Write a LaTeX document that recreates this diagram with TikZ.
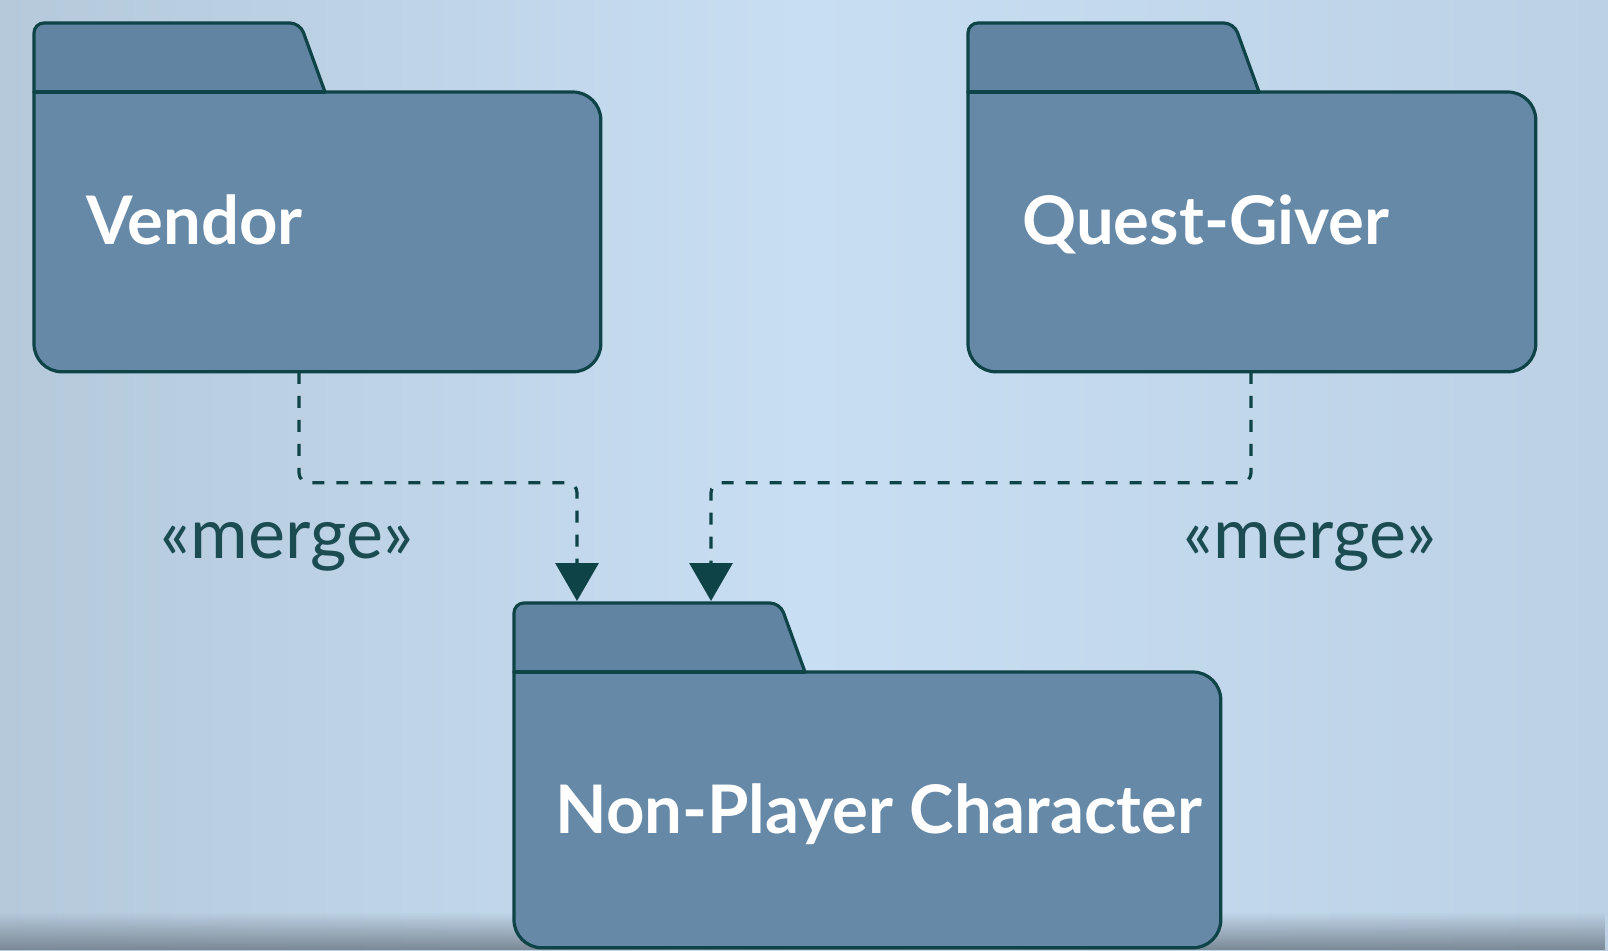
\documentclass[tikz,border=0pt]{standalone}
\usepackage{fontspec}
\setmainfont{Lato}
\usetikzlibrary{arrows.meta, positioning, fadings}

\definecolor{bgblue}{HTML}{C8DEF2}
\definecolor{bgleft}{HTML}{B5C9DB}
\definecolor{bgright}{HTML}{BCD1E4}
\definecolor{bgfoot}{HTML}{7A8895}
\definecolor{pkgfill}{HTML}{6689A8}
\definecolor{tabfill}{HTML}{6084A2}
\definecolor{pkgedge}{HTML}{0E4447}
\definecolor{mergetext}{HTML}{1B4C52}

\tikzset{
  pkgbody/.style={minimum width=#1, minimum height=139.5pt, inner sep=0pt, anchor=north west},
  pkgline/.style={draw=pkgedge, line width=1.6pt, line join=round, line cap=round},
  pkgname/.style={text=white, font=\fontsize{33.5}{36}\selectfont\bfseries, inner sep=0pt, anchor=base west},
  mergeline/.style={draw=pkgedge, line width=1.6pt, dash pattern=on 6pt off 6pt, rounded corners=5pt,
    -{Triangle[width=21.5pt, length=19pt]}},
  mergelabel/.style={text=mergetext, font=\fontsize{35}{38}\selectfont, inner sep=0pt, anchor=base}
}

% folder outline of a package, drawn round its body node
\newcommand{\pkgfolder}[1]{%
  \coordinate (#1-tab) at ([shift={(291,0)}]#1.north west);
  \fill[pkgfill, rounded corners=14pt] (#1.north west) -- (#1.north east) -- (#1.south east) -- (#1.south west) -- (#1.north west);
  \fill[tabfill, rounded corners=7pt] (#1.north west) -- ++(0,-69) -- ++(266,0) -- (#1-tab);
  \draw[pkgline] (#1-tab) [rounded corners=14pt] -- (#1.north east) -- (#1.south east) -- (#1.south west) -- (#1.north west)
    [rounded corners=5pt] -- ++(0,-69) -- ++(266,0) [rounded corners=11pt] -- (#1-tab);
  \draw[pkgline] (#1.north west) -- (#1-tab);
}

\begin{document}
\begin{tikzpicture}[x=0.5pt, y=-0.5pt]
  % background
  \useasboundingbox (0,0) rectangle (1608,950);
  \shade[left color=bgleft, right color=bgright, middle color=bgblue] (0,0) rectangle (1608,950);
  \fill[bgfoot, path fading=north] (0,912) rectangle (1608,950);

  % packages
  \node[pkgbody=283pt] (vendor) at (34,92) {};
  \node[pkgbody=283.5pt] (quest) at (968,92) {};
  \node[pkgbody=353pt, minimum height=137.5pt] (npc) at (514,672) {};
  \pkgfolder{vendor}
  \pkgfolder{quest}
  \pkgfolder{npc}

  \node[pkgname] (vendor-name) at ([shift={(52,152)}]vendor.north west) {Vendor};
  \node[pkgname] (quest-name) at ([shift={(54,152)}]quest.north west) {Quest-Giver};
  \node[pkgname] (npc-name) at ([shift={(41,161)}]npc.north west) {Non-Player Character};

  % merge dependencies
  \coordinate (vendor-out) at ([shift={(265,0)}]vendor.south west);
  \coordinate (quest-out) at ([shift={(283,0)}]quest.south west);
  \coordinate (npc-in1) at ([shift={(63,-71)}]npc.north west);
  \coordinate (npc-in2) at ([shift={(197,-71)}]npc.north west);
  \draw[mergeline] (vendor-out) -- ++(0,111) -| (npc-in1);
  \draw[mergeline] (quest-out) -- ++(0,111) -| (npc-in2);

  \node[mergelabel] (merge-left) at (287,558) {«merge»};
  \node[mergelabel] (merge-right) at (1310,558) {«merge»};
\end{tikzpicture}
\end{document}
